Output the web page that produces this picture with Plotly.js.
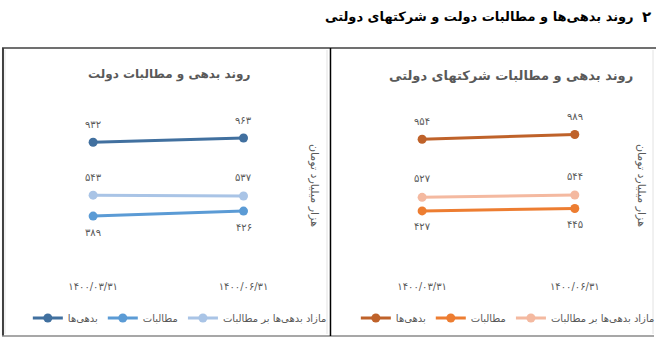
<!DOCTYPE html>
<html>
<head>
<meta charset="utf-8">
<script src="https://cdn.plot.ly/plotly-3.0.1.min.js"></script>
<style>html,body{margin:0;padding:0;background:#fff;}#chart{width:660px;height:344px;}</style>
</head>
<body>
<div id="chart"></div>
<script>
// ---- data ----
const categories = ['۱۴۰۰/۰۳/۳۱', '۱۴۰۰/۰۶/۳۱'];
const seriesNames = ['بدهی‌ها', 'مطالبات', 'مازاد بدهی‌ها بر مطالبات'];
const govDebts = [932, 963];
const govClaims = [389, 426];
const govExcess = [543, 537];
const coDebts = [954, 989];
const coClaims = [427, 445];
const coExcess = [527, 544];
const mainTitle = 'روند بدهی‌ها و مطالبات دولت و شرکتهای دولتی';
const sectionNumber = '۲';
const govTitle = 'روند بدهی و مطالبات دولت';
const coTitle = 'روند بدهی و مطالبات شرکتهای دولتی';
const unitTitle = 'هزار میلیارد تومان';

// ---- helpers ----
const W = 660, H = 344;
const px = x => x / W;
const py = y => 1 - y / H;
const fa = n => String(n).replace(/[0-9]/g, d => '۰۱۲۳۴۵۶۷۸۹'[+d]);
const FONT = 'DejaVu Sans';
const GREY = '#595959';

const govColors = ['#41709f', '#5b9bd5', '#a9c4e6'];
const coColors = ['#bf622a', '#ed7d31', '#f4b9a0'];

function mk(name, y, color, xa, ya, leg) {
  return {
    type: 'scatter', mode: 'lines+markers', name: name,
    x: categories, y: y, xaxis: xa, yaxis: ya, legend: leg,
    line: {color: color, width: 3},
    marker: {color: color, size: 9},
    hoverinfo: 'skip'
  };
}

const traces = [
  mk(seriesNames[0], govDebts, govColors[0], 'x', 'y', 'legend'),
  mk(seriesNames[1], govClaims, govColors[1], 'x', 'y', 'legend'),
  mk(seriesNames[2], govExcess, govColors[2], 'x', 'y', 'legend'),
  mk(seriesNames[0], coDebts, coColors[0], 'x2', 'y2', 'legend2'),
  mk(seriesNames[1], coClaims, coColors[1], 'x2', 'y2', 'legend2'),
  mk(seriesNames[2], coExcess, coColors[2], 'x2', 'y2', 'legend2')
];

// data labels
const annotations = [];
function labels(vals, xa, ya, shift) {
  vals.forEach((v, i) => annotations.push({
    x: categories[i], y: v, xref: xa, yref: ya, text: fa(v), showarrow: false,
    yshift: shift, font: {size: 10, color: GREY, family: FONT}
  }));
}
labels(govDebts, 'x', 'y', 18);
labels(govExcess, 'x', 'y', 18);
labels(govClaims, 'x', 'y', -16);
labels(coDebts, 'x2', 'y2', 18);
labels(coExcess, 'x2', 'y2', 19);
labels(coClaims, 'x2', 'y2', -16);

annotations.push(
  {xref: 'paper', yref: 'paper', x: px(640), y: py(17), xanchor: 'right', yanchor: 'middle',
   text: '<b>' + mainTitle + '</b>', showarrow: false, font: {size: 13, color: '#000', family: FONT}},
  {xref: 'paper', yref: 'paper', x: px(650), y: py(17), xanchor: 'center', yanchor: 'middle',
   text: '<b>' + sectionNumber + '</b>', showarrow: false, font: {size: 15, color: '#000', family: FONT}},
  {xref: 'paper', yref: 'paper', x: px(170), y: py(75), xanchor: 'center', yanchor: 'middle',
   text: '<b>' + govTitle + '</b>', showarrow: false, font: {size: 12, color: GREY, family: FONT}},
  {xref: 'paper', yref: 'paper', x: px(514), y: py(76), xanchor: 'center', yanchor: 'middle',
   text: '<b>' + coTitle + '</b>', showarrow: false, font: {size: 13, color: GREY, family: FONT}},
  {xref: 'paper', yref: 'paper', x: px(316), y: py(185), xanchor: 'center', yanchor: 'middle', textangle: 90,
   text: unitTitle, showarrow: false, font: {size: 11, color: GREY, family: FONT}},
  {xref: 'paper', yref: 'paper', x: px(645), y: py(185), xanchor: 'center', yanchor: 'middle', textangle: 90,
   text: unitTitle, showarrow: false, font: {size: 11, color: GREY, family: FONT}}
);

const line = (x0, y0, x1, y1, color, width) => ({
  type: 'line', xref: 'paper', yref: 'paper', x0: px(x0), y0: py(y0), x1: px(x1), y1: py(y1),
  line: {color: color, width: width}
});
const shapes = [
  line(5, 50, 5, 334, '#e3e3e3', 1),
  line(329, 50, 329, 334, '#e3e3e3', 1),
  line(657, 50, 657, 334, '#e3e3e3', 1),
  line(2, 48, 660, 48, '#404040', 1.5),
  line(3, 48, 3, 336, '#404040', 2),
  line(2, 336, 658, 336, '#8a8a8a', 1.5),
  line(332.5, 48, 332.5, 336, '#000000', 1.5)
];

const yBottom = 269, yTop = 105.8;
const yax = {
  range: [0, 1200], domain: [py(yBottom), py(yTop)],
  showgrid: false, zeroline: false, showline: false, showticklabels: false, ticks: '', fixedrange: true
};
const xax = (d0, d1, p0, p1) => {
  const step = p1 - p0;
  return {
    type: 'category', domain: [px(d0), px(d1)],
    range: [-(p0 - d0) / step, 1 + (d1 - p1) / step],
    showgrid: false, zeroline: false, showline: false, ticks: '',
    ticklabelstandoff: 10,
    tickfont: {size: 10, color: GREY, family: FONT}, fixedrange: true
  };
};

const legendBase = {
  orientation: 'h', yref: 'paper', y: py(318), yanchor: 'middle', xanchor: 'left',
  font: {size: 10, color: GREY, family: FONT}, bgcolor: 'rgba(0,0,0,0)', itemclick: false, itemdoubleclick: false
};

const layout = {
  width: W, height: H, margin: {l: 0, r: 0, t: 0, b: 0},
  paper_bgcolor: '#fff', plot_bgcolor: 'rgba(0,0,0,0)',
  font: {family: FONT, color: GREY},
  xaxis: Object.assign(xax(20, 300, 93.7, 245), {anchor: 'y'}),
  yaxis: Object.assign({}, yax, {anchor: 'x'}),
  xaxis2: Object.assign(xax(350, 630, 424.7, 578.3), {anchor: 'y2'}),
  yaxis2: Object.assign({}, yax, {anchor: 'x2'}),
  showlegend: true,
  legend: Object.assign({}, legendBase, {x: px(28)}),
  legend2: Object.assign({}, legendBase, {x: px(358)}),
  annotations: annotations,
  shapes: shapes
};

Plotly.newPlot('chart', traces, layout, {staticPlot: true, displayModeBar: false});
</script>
</body>
</html>
